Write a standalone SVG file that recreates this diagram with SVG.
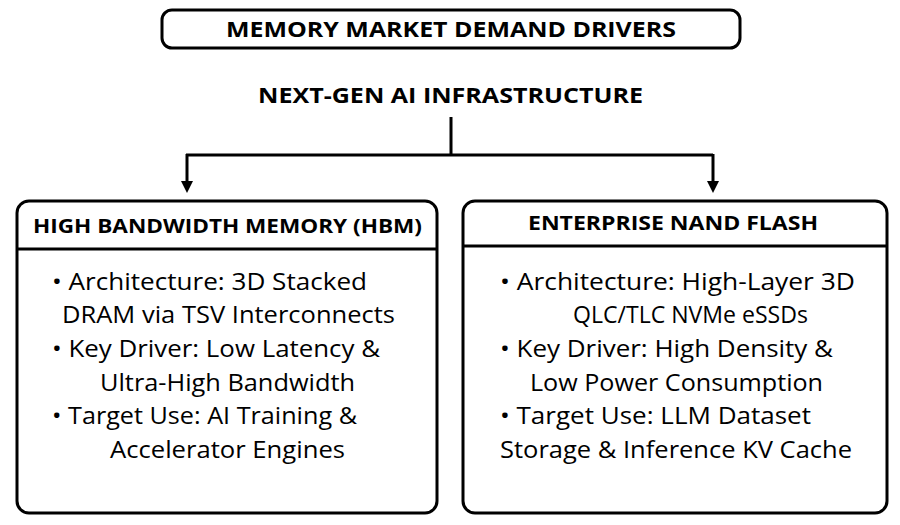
<svg xmlns="http://www.w3.org/2000/svg" width="900" height="525" viewBox="0 0 900 525">
<style>
.box{fill:#fff;stroke:#000;stroke-width:3}
.h{font-family:"Open Sans","Liberation Sans",sans-serif;font-weight:bold;fill:#000}
.t{font-family:"Open Sans","Liberation Sans",sans-serif;font-size:23px;fill:#000}
.ln{stroke:#000;stroke-width:3;fill:none}
</style>
<defs><marker id="a" markerWidth="4" markerHeight="4" refX="2" refY="2" orient="auto" markerUnits="strokeWidth"><path d="M0,0 L4,2 L0,4 Z"/></marker></defs>
<rect width="900" height="525" fill="#fff"/>
<g id="title"><rect class="box" x="162" y="10" width="578" height="38" rx="10"/><text class="h" x="226" y="37" font-size="21" textLength="450" lengthAdjust="spacingAndGlyphs">MEMORY MARKET DEMAND DRIVERS</text></g>
<g id="root"><text class="h" x="258" y="103" font-size="22" textLength="385" lengthAdjust="spacingAndGlyphs">NEXT-GEN AI INFRASTRUCTURE</text></g>
<g id="connectors">
<path class="ln" d="M451,117 V155 M186,155 H713"/>
<path class="ln" d="M187,154 V187" marker-end="url(#a)"/>
<path class="ln" d="M713,154 V187" marker-end="url(#a)"/>
</g>
<g id="hbm"><rect class="box" x="17" y="201" width="420" height="312" rx="12"/><line class="ln" x1="17" y1="249" x2="437" y2="249"/>
<text class="h" x="33" y="233" font-size="20" textLength="389" lengthAdjust="spacingAndGlyphs">HIGH BANDWIDTH MEMORY (HBM)</text>
<text class="t" x="52" y="290" textLength="315" lengthAdjust="spacingAndGlyphs">• Architecture: 3D Stacked</text>
<text class="t" x="62" y="323" textLength="333" lengthAdjust="spacingAndGlyphs">DRAM via TSV Interconnects</text>
<text class="t" x="52" y="357" textLength="328" lengthAdjust="spacingAndGlyphs">• Key Driver: Low Latency &amp;</text>
<text class="t" x="100" y="391" textLength="255" lengthAdjust="spacingAndGlyphs">Ultra-High Bandwidth</text>
<text class="t" x="52" y="424" textLength="305" lengthAdjust="spacingAndGlyphs">• Target Use: AI Training &amp;</text>
<text class="t" x="110" y="458" textLength="235" lengthAdjust="spacingAndGlyphs">Accelerator Engines</text></g>
<g id="nand"><rect class="box" x="463" y="201" width="424" height="312" rx="12"/><line class="ln" x1="463" y1="246" x2="887" y2="246"/>
<text class="h" x="528" y="230" font-size="20" textLength="290" lengthAdjust="spacingAndGlyphs">ENTERPRISE NAND FLASH</text>
<text class="t" x="500" y="290" textLength="355" lengthAdjust="spacingAndGlyphs">• Architecture: High-Layer 3D</text>
<text class="t" x="573" y="323" textLength="235" lengthAdjust="spacingAndGlyphs">QLC/TLC NVMe eSSDs</text>
<text class="t" x="500" y="357" textLength="333" lengthAdjust="spacingAndGlyphs">• Key Driver: High Density &amp;</text>
<text class="t" x="530" y="391" textLength="293" lengthAdjust="spacingAndGlyphs">Low Power Consumption</text>
<text class="t" x="500" y="424" textLength="311" lengthAdjust="spacingAndGlyphs">• Target Use: LLM Dataset</text>
<text class="t" x="500" y="458" textLength="352" lengthAdjust="spacingAndGlyphs">Storage &amp; Inference KV Cache</text></g>
</svg>
